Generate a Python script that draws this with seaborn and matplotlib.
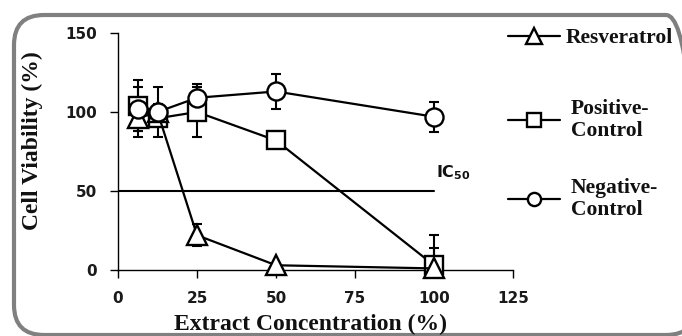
import numpy as np
import pandas as pd
import matplotlib
matplotlib.use("Agg")
import matplotlib.pyplot as plt
from matplotlib.lines import Line2D
from matplotlib.patches import FancyBboxPatch
from matplotlib.transforms import IdentityTransform
import seaborn as sns

# ---- data ----
conc = [6.25, 12.5, 25, 50, 100]
series_names = ["Positive-Control", "Resveratrol", "Negative-Control"]
resveratrol = [96, 100, 22, 3, 1]
resveratrol_sd = [12, 16, 7, 1, 13]
positive = [104, 96, 100, 82, 3]
positive_sd = [16, 3, 16, 2, 19]
negative = [102, 100, 109, 113, 97]
negative_sd = [14, 5, 9, 11, 9.5]
ic50 = 50
x_ticks = [0, 25, 50, 75, 100, 125]
y_ticks = [0, 50, 100, 150]

sns.set_style("ticks")
plt.rcParams["font.family"] = ["DejaVu Sans"]
plt.rcParams["mathtext.fontset"] = "dejavusans"

df = pd.DataFrame({
    "conc": conc * 3,
    "viability": positive + resveratrol + negative,
    "sd": positive_sd + resveratrol_sd + negative_sd,
    "series": sum([[s] * len(conc) for s in series_names], []),
})

markers = {"Resveratrol": "^", "Positive-Control": "s", "Negative-Control": "o"}
msizes = {"Resveratrol": 14, "Positive-Control": 13, "Negative-Control": 13}

fig = plt.figure(figsize=(6.82, 3.36), dpi=100)
ax = fig.add_axes([118 / 682, 1 - 270 / 336, (513 - 118) / 682, (270 - 33) / 336])

# error bars
for s in series_names:
    d = df[df.series == s]
    ax.errorbar(d.conc, d.viability, yerr=d.sd, fmt="none", ecolor="black",
                elinewidth=1.5, capsize=3.6, capthick=1.5, zorder=1)

# IC50 line
sns.lineplot(x=[0, 100], y=[ic50, ic50], ax=ax, color="black", lw=1.5, zorder=2)
ax.text(100.5, ic50 + 6, r"IC$_{\mathbf{50}}$", fontsize=11.5, fontweight="bold",
        color="#111111", ha="left", va="bottom")

for i, s in enumerate(series_names):
    d = df[df.series == s]
    sns.lineplot(data=d, x="conc", y="viability", ax=ax, color="black", lw=1.6,
                 marker=markers[s], markersize=msizes[s], markerfacecolor="white",
                 markeredgecolor="black", markeredgewidth=1.7, clip_on=False,
                 zorder=3 + i, legend=False)

ax.set_xlim(0, 125)
ax.set_ylim(0, 150)
ax.set_xticks(x_ticks)
ax.set_yticks(y_ticks)
ax.set_xlabel("")
ax.set_ylabel("")
for sp in ["top", "right"]:
    ax.spines[sp].set_visible(False)
for sp in ["left", "bottom"]:
    ax.spines[sp].set_linewidth(1.0)
    ax.spines[sp].set_color("black")
ax.tick_params(axis="both", direction="out", length=6, width=1.0, color="black",
               labelsize=11, labelcolor="#1a1a1a")
ax.tick_params(axis="y", pad=9)
ax.tick_params(axis="x", pad=9)
for lab in ax.get_xticklabels() + ax.get_yticklabels():
    lab.set_fontweight("bold")

serif = ["Liberation Serif", "DejaVu Serif"]
fig.text(311 / 682, 1 - 330 / 336, "Extract Concentration (%)", family=serif,
         fontsize=17, fontweight="bold", ha="center", va="baseline", color="#111111")
fig.text(32 / 682, 1 - 141 / 336, "Cell Viability (%)", family=serif,
         fontsize=17, fontweight="bold", ha="center", va="center", rotation=90,
         color="#111111")

# legends (one per entry, placed like the reference)
leg_specs = [("Resveratrol", 38, 0.25), ("Positive-\nControl", 120, 0.5),
             ("Negative-\nControl", 199, 0.5)]
leg_keys = ["Resveratrol", "Positive-Control", "Negative-Control"]
for (label, ypx, tp), key in zip(leg_specs, leg_keys):
    h = Line2D([], [], color="black", lw=1.6, marker=markers[key],
               markersize=9.5 if key != "Resveratrol" else 11,
               markerfacecolor="white", markeredgecolor="black", markeredgewidth=1.7)
    lg = fig.legend(handles=[h], labels=[label], loc="center left",
                    bbox_to_anchor=(508 / 682, 1 - ypx / 336),
                    bbox_transform=fig.transFigure, frameon=False, borderpad=0,
                    borderaxespad=0, handlelength=2.42, handletextpad=tp,
                    prop={"family": serif, "weight": "bold", "size": 15.5})
    for t in lg.get_texts():
        t.set_linespacing(1.1)
        t.set_color("#111111")

# rounded frame (right side runs past the image edge, as in the reference)
frame = FancyBboxPatch((14, 1), 682, 320, boxstyle="round,pad=0,rounding_size=30",
                       transform=IdentityTransform(), fill=False,
                       edgecolor="#808080", linewidth=3)
fig.patches.append(frame)

fig.savefig("out.png", dpi=100)
